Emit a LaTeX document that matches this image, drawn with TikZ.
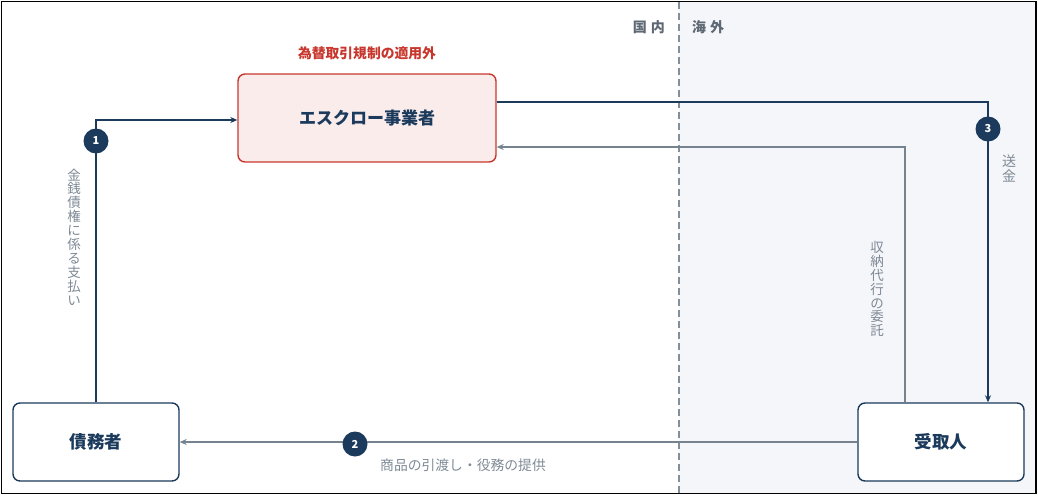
\documentclass[tikz,border=0pt]{standalone}
\usepackage{fontspec}
\setmainfont{Noto Sans CJK JP}
\usetikzlibrary{arrows.meta}
\definecolor{navy}{HTML}{1B3A5C}
\definecolor{linegray}{HTML}{76838F}
\definecolor{labelgray}{HTML}{7F8A96}
\definecolor{zonegray}{HTML}{5E6873}
\definecolor{redline}{HTML}{C8372D}
\definecolor{redfill}{HTML}{FBECEC}
\definecolor{overseas}{HTML}{F4F6FA}
\begin{document}
\begin{tikzpicture}[x=1pt,y=-1pt,
  box/.style={draw=navy,line width=1.4pt,rounded corners=7pt,fill=white,
    minimum width=166pt,minimum height=78pt,text=navy,
    font=\fontsize{17.5}{19}\selectfont\bfseries},
  navyarrow/.style={draw=navy,line width=1.8pt,-{Stealth[length=7pt,width=6pt]}},
  grayarrow/.style={draw=linegray,line width=1.8pt,-{Stealth[length=7pt,width=6pt]}},
  badge/.style={circle,fill=navy,text=white,inner sep=0pt,minimum size=25pt,
    font=\fontsize{11}{12}\selectfont\bfseries},
  vlabel/.style={text=labelgray,align=center,inner sep=0pt,
    font=\fontsize{13.5}{13.9}\selectfont},
  zone/.style={text=zonegray,inner sep=0pt,font=\fontsize{14}{15}\selectfont\bfseries}
]
\useasboundingbox (0,0) rectangle (1038,495);
% overseas zone
\fill[overseas] (679,2) rectangle (1035,493);
\draw[linegray!90,line width=1.4pt,dash pattern=on 7pt off 4pt] (679,2) -- (679,493);
\draw[black,line width=1.6pt] (1.5,1.5) rectangle (1036,493.5);
\node[zone,anchor=east] (domestic) at (665,27) {国\hspace{4pt}内};
\node[zone,anchor=west] (abroad) at (692,27) {海\hspace{4pt}外};

% nodes
\node[box,draw=redline,fill=redfill,minimum width=258pt,minimum height=88pt,
  font=\fontsize{17}{19}\selectfont\bfseries] (escrow) at (367,118) {エスクロー事業者};
\node[text=redline,inner sep=0pt,font=\fontsize{13.8}{15}\selectfont\bfseries] (exempt) at (367,53) {為替取引規制の適用外};
\node[box] (debtor) at (96,442) {債務者};
\node[box] (recip) at (941,442) {受取人};

% arrow 1
\draw[navyarrow] (debtor.north) |- ([yshift=-2pt]escrow.west);
\node[badge] (n1) at (96,141) {1};
\node[vlabel] (l1) at (74,237) {金\\銭\\債\\権\\に\\係\\る\\支\\払\\い};

% arrow 3
\draw[navyarrow] ([yshift=16pt]escrow.east) -| ([xshift=47pt]recip.north);
\node[badge] (n3) at (988,129) {3};
\node[vlabel,font=\fontsize{14}{15}\selectfont] (l3) at (1009,168) {送\\金};

% gray arrow
\draw[grayarrow] ([xshift=-36pt]recip.north) |- ([yshift=-29pt]escrow.east);
\node[vlabel] (l4) at (877,289) {収\\納\\代\\行\\の\\委\\託};

% arrow 2
\draw[grayarrow] (recip.west) -- (debtor.east);
\node[badge] (n2) at (355,444) {2};
\node[text=labelgray,inner sep=0pt,font=\fontsize{13.8}{15}\selectfont] (l2) at (463,465) {商品の引渡し・役務の提供};
\end{tikzpicture}
\end{document}
